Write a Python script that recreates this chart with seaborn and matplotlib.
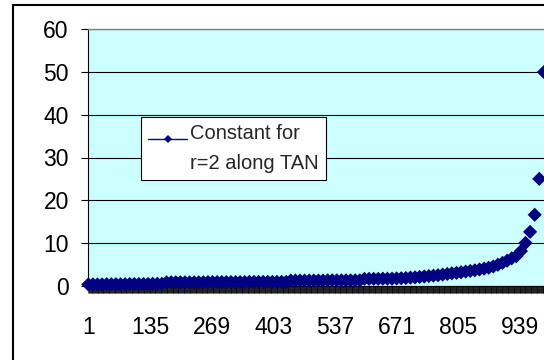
import numpy as np
import pandas as pd
import matplotlib
matplotlib.use("Agg")
import matplotlib.pyplot as plt
import seaborn as sns
from matplotlib.lines import Line2D
from matplotlib.patches import Rectangle
from matplotlib.font_manager import FontProperties
from matplotlib.legend_handler import HandlerLine2D

sns.set_style("white")
plt.rcParams["font.family"] = ["Liberation Sans", "DejaVu Sans"]

# ---- data ----
series_name = "Constant for\nr=2 along TAN"
row_labels = [1, 135, 269, 403, 537, 671, 805, 939]
point_rows = list(range(1, 992, 10))  # rows holding a value (others blank)
values = [
    0.3, 0.3, 0.3, 0.3, 0.35, 0.35, 0.35, 0.35, 0.35, 0.4, 0.4, 0.4, 0.4, 0.4, 0.45, 0.45, 0.45,
    0.8, 0.8, 0.8, 0.8, 0.8, 0.8, 0.8, 0.8, 0.8,
    0.85, 0.85, 0.85, 0.85, 0.85, 0.85, 0.85, 0.85, 0.85,
    0.9, 0.9, 0.9, 0.9, 0.9, 0.9, 0.9, 0.9, 0.9,
    1.2, 1.2, 1.2, 1.2, 1.2, 1.2, 1.2, 1.2,
    1.25, 1.25, 1.25, 1.25, 1.25, 1.25, 1.25, 1.25,
    1.6, 1.6, 1.6, 1.6, 1.65, 1.65, 1.65,
    1.7, 1.75, 1.8, 1.9, 1.95, 2.05, 2.15, 2.25, 2.35, 2.45,
    2.6, 2.75, 2.9, 3.0, 3.15, 3.3, 3.45, 3.6, 3.8, 4.0,
    4.2, 4.5, 4.9, 5.35, 5.85, 6.4, 6.9, 8.1, 10.0, 12.6,
    16.6, 25.0, 50.0,
]
y_ticks = [0, 10, 20, 30, 40, 50, 60]
n_rows = 1050

df = pd.DataFrame({"row": point_rows, "value": values})

W, H = 544, 360
fig = plt.figure(figsize=(W / 100, H / 100), dpi=100)
fig.patch.set_facecolor("white")

# outer chart frame (cropped at right and bottom)
fig.add_artist(Rectangle((12.7 / W, -0.05), 1.5, (H - 4.7) / H + 0.05,
                         transform=fig.transFigure, fill=False,
                         edgecolor="black", linewidth=1.5))

left, top, bottom = 88.3, 29.3, 285.7
right = 88.3 + (n_rows - 1) * 0.4602
ax = fig.add_axes([left / W, (H - bottom) / H, (right - left) / W, (bottom - top) / H])
ax.set_facecolor("#CCFFFF")

navy = "#000080"
sns.scatterplot(data=df, x="row", y="value", marker="D", s=52, color=navy,
                edgecolor="none", linewidth=0, ax=ax, legend=False,
                clip_on=False, zorder=3)

ax.set_xlim(1, n_rows)
ax.set_ylim(0, 60)
ax.set_yticks(y_ticks)
ax.set_yticklabels([str(v) for v in y_ticks])
ax.set_xticks(row_labels)
ax.set_xticklabels([str(v) for v in row_labels])
ax.set_xticks(np.arange(1, n_rows + 1), minor=True)
ax.set_xlabel("")
ax.set_ylabel("")

ax.yaxis.grid(True, color="black", linewidth=0.8)
ax.xaxis.grid(False)
ax.set_axisbelow(True)

ax.tick_params(axis="x", which="both", direction="out", length=5, width=0.45,
               color="black", bottom=True)
ax.tick_params(axis="x", which="major", pad=17, labelsize=16.5, labelcolor="black")
ax.tick_params(axis="y", direction="out", length=5, width=0.8, color="black",
               pad=9, labelsize=16.5, labelcolor="black", left=True)

for side in ["left", "bottom"]:
    ax.spines[side].set_color("black")
    ax.spines[side].set_linewidth(0.8)
ax.spines["top"].set_color("#808080")
ax.spines["top"].set_linewidth(1.0)
ax.spines["right"].set_visible(False)


class RaisedHandler(HandlerLine2D):
    def create_artists(self, legend, orig_handle, xdescent, ydescent, width,
                       height, fontsize, trans):
        arts = super().create_artists(legend, orig_handle, xdescent, ydescent,
                                      width, height, fontsize, trans)
        for a in arts:
            a.set_ydata(np.asarray(a.get_ydata(), dtype=float) + 7.5)
        return arts


handle = Line2D([], [], color=navy, linewidth=1.0, marker="D", markersize=4.2,
                markeredgewidth=0)
legprop = FontProperties(family=["Liberation Sans"], size=14.5)
leg = ax.legend(handles=[handle], labels=[series_name], loc="upper left",
                bbox_to_anchor=(141 / W, 1 - 117 / H), bbox_transform=fig.transFigure,
                borderaxespad=0, frameon=True, fancybox=False, shadow=False,
                edgecolor="black", facecolor="white", framealpha=1, prop=legprop,
                handlelength=1.95, handletextpad=0.15, borderpad=0.35,
                handler_map={Line2D: RaisedHandler()})
leg.get_frame().set_linewidth(0.8)
for t in leg.get_texts():
    t.set_linespacing(1.75)

fig.savefig("out.png", dpi=100)
